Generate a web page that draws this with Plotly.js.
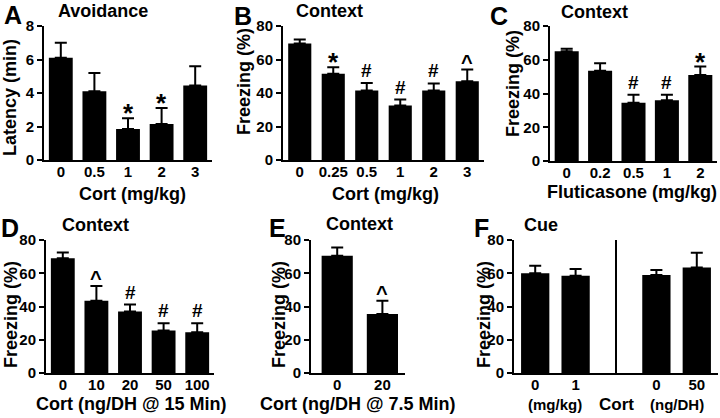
<!DOCTYPE html>
<html><head><meta charset="utf-8">
<script src="https://cdn.plot.ly/plotly-3.0.1.min.js"></script>
<style>html,body{margin:0;padding:0;background:#fff}#chart{width:720px;height:418px}</style>
</head><body><div id="chart"></div>
<script>
// Panel A: Avoidance latency (min)
const aCats = ['0', '0.5', '1', '2', '3'];
const aMeans = [6.1, 4.1, 1.85, 2.15, 4.45];
const aErr = [0.9, 1.1, 0.65, 0.95, 1.15];
const aSig = ['', '', '*', '*', ''];
// Panel B: Context freezing, Cort (mg/kg)
const bCats = ['0', '0.25', '0.5', '1', '2', '3'];
const bMeans = [69.5, 51.5, 41.5, 32.5, 41.5, 47];
const bErr = [2.5, 3.8, 4.5, 3.6, 4.2, 7];
const bSig = ['', '*', '#', '#', '#', '^'];
// Panel C: Context freezing, Fluticasone (mg/kg)
const cCats = ['0', '0.2', '0.5', '1', '2'];
const cMeans = [65, 53.5, 34.5, 36, 51];
const cErr = [1.5, 4.5, 4.7, 3.2, 5];
const cSig = ['', '', '#', '#', '*'];
// Panel D: Context freezing, Cort (ng/DH @ 15 Min)
const dCats = ['0', '10', '20', '50', '100'];
const dMeans = [69, 43.5, 37, 25.5, 24.5];
const dErr = [3.5, 8.8, 4.2, 4.5, 5.5];
const dSig = ['', '^', '#', '#', '#'];
// Panel E: Context freezing, Cort (ng/DH @ 7.5 Min)
const eCats = ['0', '20'];
const eMeans = [70.5, 35.5];
const eErr = [5, 8];
const eSig = ['', '^'];
// Panel F: Cue freezing
const fDoses = ['0', '1', '0', '50'];
const fUnits = ['(mg/kg)', '(mg/kg)', '(ng/DH)', '(ng/DH)'];
const fMeans = [60, 58.5, 59, 63.5];
const fErr = [4.5, 4, 3, 8.8];
const fSig = ['', '', '', ''];

const W = 720, H = 418;
const px = x => x / W, py = y => 1 - y / H;
const FONT = 'Liberation Sans, Arial, Helvetica, sans-serif';

const fIds = fDoses.map((d, i) => fUnits[i] + ' ' + d);
const fCatArray = [fIds[0], fIds[1], 'gap', fIds[2], fIds[3]];

const panels = [
  {id: 1, cats: aCats, means: aMeans, err: aErr, sig: aSig, xd: [44, 212], yd: [26, 160], yr: [0, 8], dt: 2, xr: [-0.5, 4.5], bw: 0.71,
   letter: ['A', 13, 15], title: ['Avoidance', 103, 11], ytitle: ['Latency (min)', 10, 98], xtitle: ['Cort (mg/kg)', 132, 194]},
  {id: 2, cats: bCats, means: bMeans, err: bErr, sig: bSig, xd: [283, 484], yd: [26, 160], yr: [0, 80], dt: 20, xr: [-0.5, 5.5], bw: 0.69,
   letter: ['B', 243, 16], title: ['Context', 329, 11], ytitle: ['Freezing (%)', 244, 82], xtitle: ['Cort (mg/kg)', 385, 194]},
  {id: 3, cats: cCats, means: cMeans, err: cErr, sig: cSig, xd: [550, 717], yd: [26, 161], yr: [0, 80], dt: 20, xr: [-0.5, 4.5], bw: 0.72,
   letter: ['C', 499, 16], title: ['Context', 594, 12], ytitle: ['Freezing (%)', 513, 84], xtitle: ['Fluticasone (mg/kg)', 632, 192]},
  {id: 4, cats: dCats, means: dMeans, err: dErr, sig: dSig, xd: [46, 214], yd: [240, 373], yr: [0, 80], dt: 20, xr: [-0.5, 4.5], bw: 0.71,
   letter: ['D', 10, 228], title: ['Context', 95, 225], ytitle: ['Freezing (%)', 11, 315], xtitle: ['Cort (ng/DH @ 15 Min)', 131, 404]},
  {id: 5, cats: eCats, means: eMeans, err: eErr, sig: eSig, xd: [311, 405], yd: [240, 373], yr: [0, 80], dt: 20, xr: [-0.58, 1.5], bw: 0.69,
   letter: ['E', 277, 228], title: ['Context', 359, 224], ytitle: ['Freezing (%)', 279, 315], xtitle: ['Cort (ng/DH @ 7.5 Min)', 358, 404]},
  {id: 6, cats: fIds, means: fMeans, err: fErr, sig: fSig, xd: [514, 718], yd: [240, 373], yr: [0, 80], dt: 20, xr: [-0.525, 4.525], bw: 0.7,
   letter: ['F', 482, 228], title: ['Cue', 541, 225], ytitle: ['Freezing (%)', 484, 315], xtitle: null}
];

const data = [];
const layout = {
  width: W, height: H, margin: {l: 0, r: 0, t: 0, b: 0},
  paper_bgcolor: '#fff', plot_bgcolor: '#fff',
  font: {family: FONT, size: 15, color: '#000', weight: 'bold'},
  showlegend: false, annotations: [], shapes: []
};

const symFont = {'*': 26, '#': 19, '^': 20};
const symShift = {'*': -12, '#': 0, '^': -5};

panels.forEach(p => {
  const xs = p.id === 1 ? '' : String(p.id);
  data.push({
    type: 'bar', x: p.cats, y: p.means, xaxis: 'x' + xs, yaxis: 'y' + xs, width: p.bw,
    marker: {color: '#000', line: {width: 0}},
    error_y: {type: 'data', symmetric: false, array: p.err, arrayminus: p.err.map(() => 0), color: '#000', thickness: 2, width: 6},
    hoverinfo: 'skip', showlegend: false
  });
  const xa = {
    domain: [px(p.xd[0]), px(p.xd[1])], anchor: 'y' + xs, type: 'category', range: p.xr,
    showline: true, linecolor: '#000', linewidth: 2, ticks: '', showgrid: false, zeroline: false,
    ticklabelstandoff: -3,
    tickfont: {size: 15, family: FONT, weight: 'bold'}, fixedrange: true, automargin: false
  };
  if (p.id === 6) {
    xa.categoryorder = 'array';
    xa.categoryarray = fCatArray;
    xa.tickmode = 'array';
    xa.tickvals = fCatArray;
    xa.ticktext = [fDoses[0], fDoses[1], '', fDoses[2], fDoses[3]];
  }
  layout['xaxis' + xs] = xa;
  layout['yaxis' + xs] = {
    domain: [py(p.yd[1]), py(p.yd[0])], anchor: 'x' + xs, range: p.yr, tick0: 0, dtick: p.dt,
    showline: true, linecolor: '#000', linewidth: 2, ticks: 'outside', ticklen: 5, tickwidth: 2, tickcolor: '#000',
    showgrid: false, zeroline: false, tickfont: {size: 15, family: FONT, weight: 'bold'}, fixedrange: true, automargin: false
  };
  const A = layout.annotations;
  A.push({xref: 'paper', yref: 'paper', x: px(p.letter[1]), y: py(p.letter[2]), text: p.letter[0], showarrow: false,
    xanchor: 'center', yanchor: 'middle', font: {size: 25, family: FONT, weight: 'bold'}});
  A.push({xref: 'paper', yref: 'paper', x: px(p.title[1]), y: py(p.title[2]), text: p.title[0], showarrow: false,
    xanchor: 'center', yanchor: 'middle', font: {size: 18, family: FONT, weight: 'bold'}});
  A.push({xref: 'paper', yref: 'paper', x: px(p.ytitle[1]), y: py(p.ytitle[2]), text: p.ytitle[0], showarrow: false,
    textangle: -90, xanchor: 'center', yanchor: 'middle', font: {size: 18, family: FONT, weight: 'bold'}});
  if (p.xtitle) {
    A.push({xref: 'paper', yref: 'paper', x: px(p.xtitle[1]), y: py(p.xtitle[2]), text: p.xtitle[0], showarrow: false,
      xanchor: 'center', yanchor: 'middle', font: {size: 18, family: FONT, weight: 'bold'}});
  }
  p.sig.forEach((s, i) => {
    if (!s) return;
    const xi = p.id === 6 ? fCatArray.indexOf(p.cats[i]) : i;
    A.push({xref: 'x' + xs, yref: 'y' + xs, x: xi, y: p.means[i] + p.err[i], text: s, showarrow: false,
      xanchor: 'center', yanchor: 'bottom', yshift: symShift[s], font: {size: symFont[s], family: FONT, weight: 'bold'}});
  });
});

// Panel F: separator line and group labels
layout.shapes.push({type: 'line', xref: 'x6', yref: 'y6', x0: 2, x1: 2, y0: 0, y1: 82, line: {color: '#000', width: 2}});
layout.annotations.push({xref: 'x6', yref: 'paper', x: 0.5, y: py(404), text: fUnits[0], showarrow: false,
  xanchor: 'center', yanchor: 'middle', font: {size: 15, family: FONT, weight: 'bold'}});
layout.annotations.push({xref: 'x6', yref: 'paper', x: 3.5, y: py(404), text: fUnits[2], showarrow: false,
  xanchor: 'center', yanchor: 'middle', font: {size: 15, family: FONT, weight: 'bold'}});
layout.annotations.push({xref: 'x6', yref: 'paper', x: 2, y: py(404), text: 'Cort', showarrow: false,
  xanchor: 'center', yanchor: 'middle', font: {size: 17, family: FONT, weight: 'bold'}});

Plotly.newPlot('chart', data, layout, {staticPlot: true, displayModeBar: false});
</script>
</body></html>
